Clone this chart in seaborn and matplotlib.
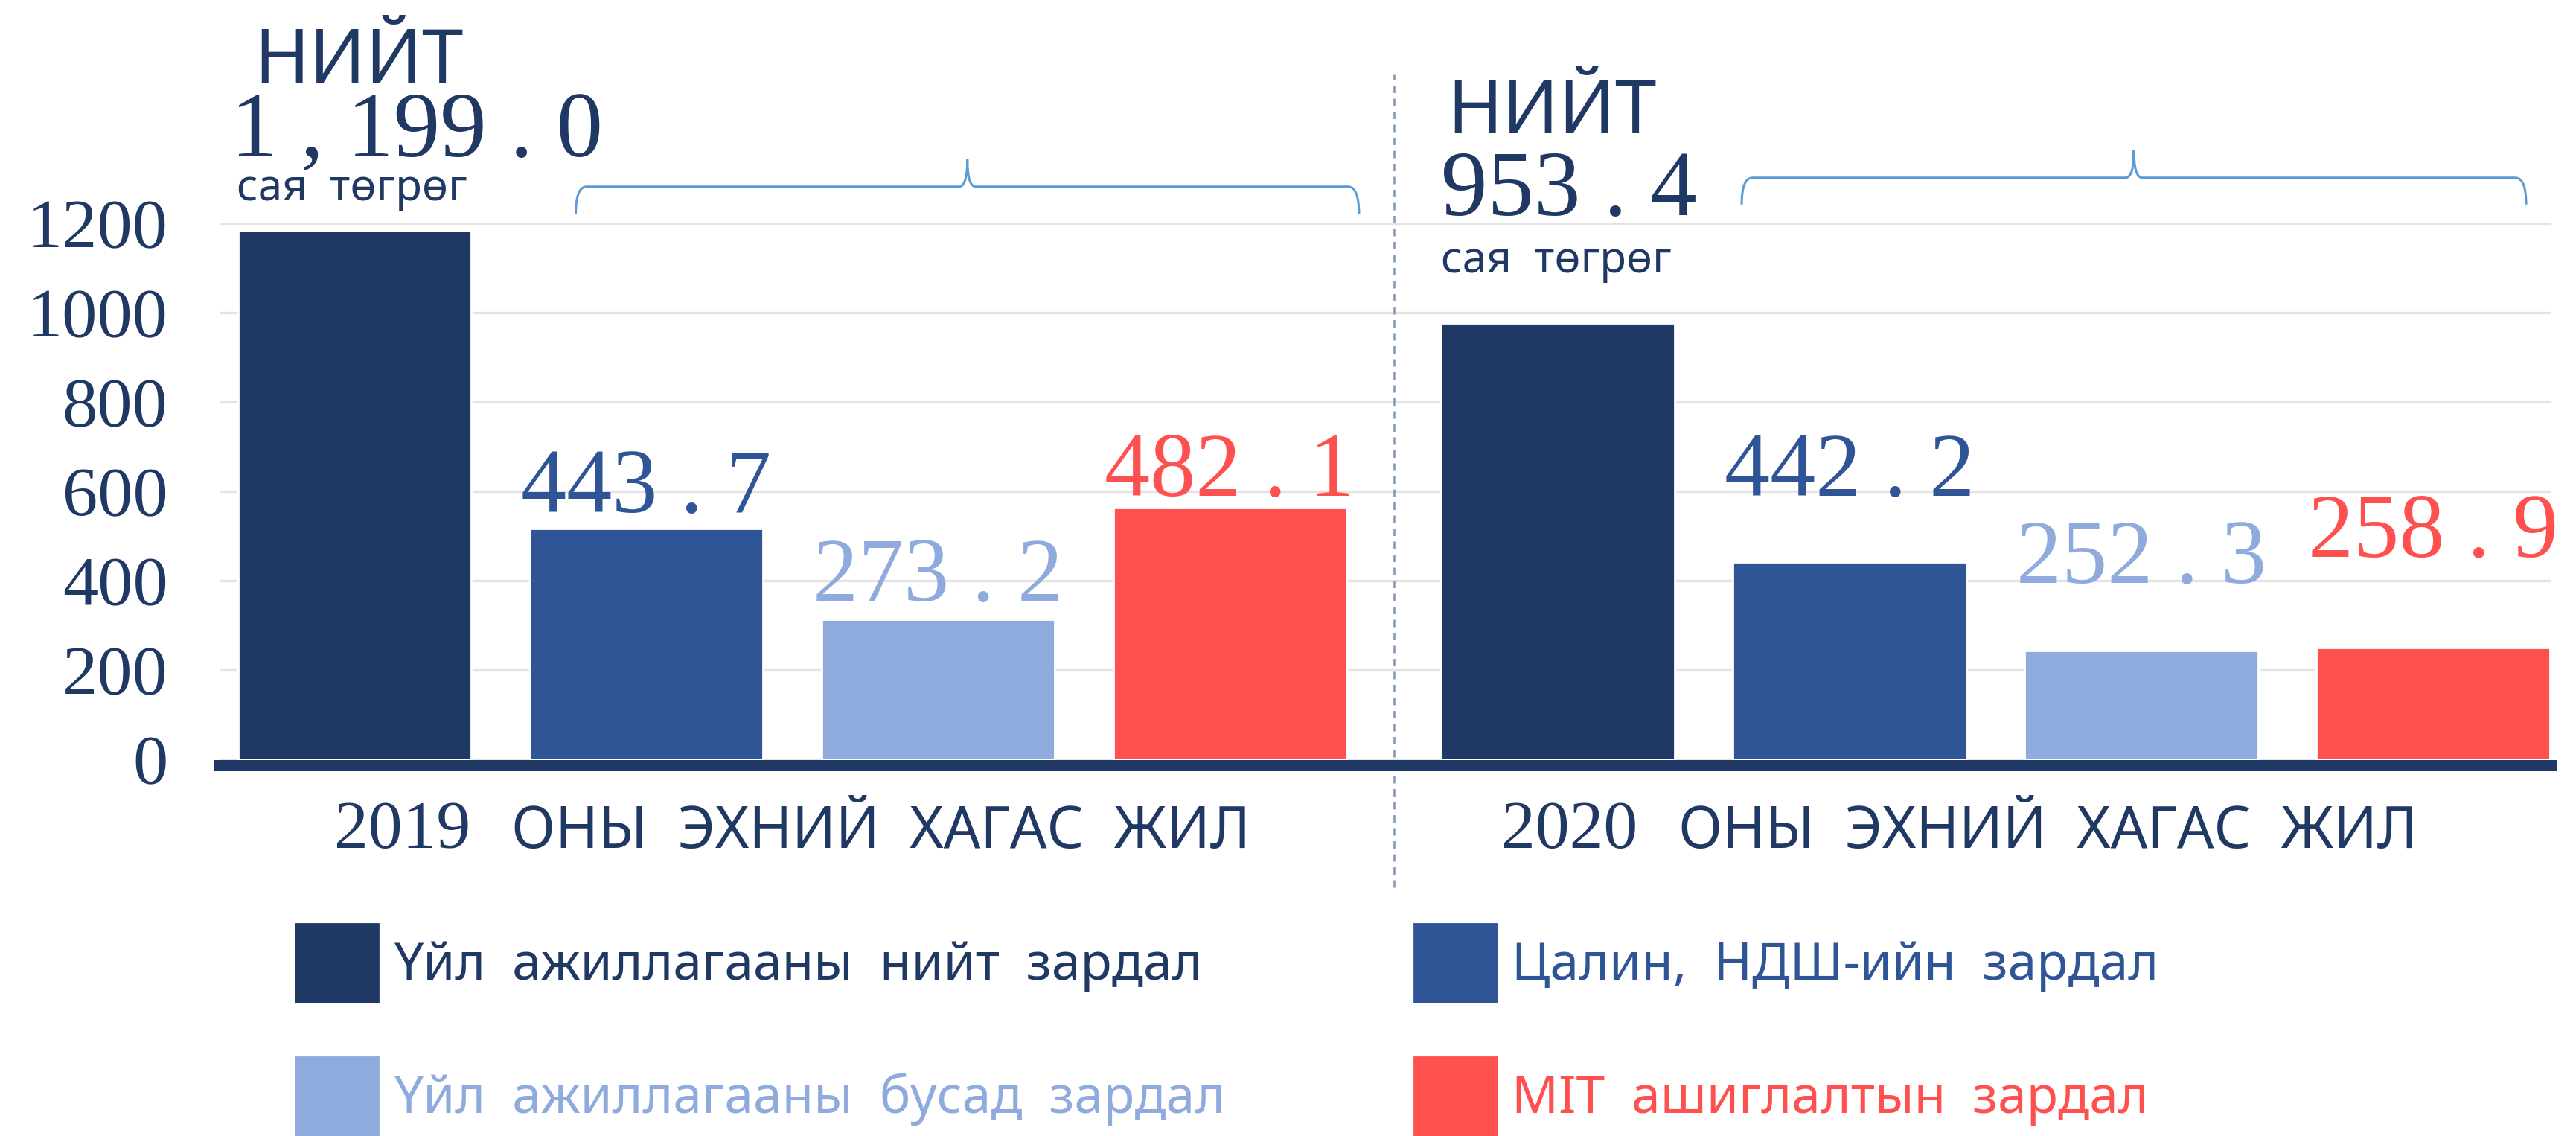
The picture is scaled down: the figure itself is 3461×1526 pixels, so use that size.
import numpy as np
import pandas as pd
import matplotlib
matplotlib.use('Agg')
import matplotlib.pyplot as plt
import seaborn as sns
from matplotlib.path import Path
from matplotlib.patches import PathPatch, Patch
from matplotlib.offsetbox import TextArea, HPacker, AnnotationBbox

# Өгөгдөл
years = ['2019', '2020']
series = ['Үйл ажиллагааны нийт зардал', 'Цалин, НДШ-ийн зардал',
          'Үйл ажиллагааны бусад зардал', 'МIT ашиглалтын зардал']
bars_2019 = [1183, 517, 313, 563]
bars_2020 = [977, 442, 243, 250]
shown_2019 = [1199.0, 443.7, 273.2, 482.1]
shown_2020 = [953.4, 442.2, 252.3, 258.9]
yticks = [0, 200, 400, 600, 800, 1000, 1200]
period_text = 'ОНЫ ЭХНИЙ ХАГАС ЖИЛ'
total_word = 'НИЙТ'
unit_text = 'сая төгрөг'

colors = ['#203864', '#2F5597', '#8FAADC', '#FF5050']
navy = '#203864'
SERIF = 'Liberation Serif'

W, H, DPI = 3462, 1526, 200

df = pd.DataFrame({
    'year': np.repeat(years, len(series)),
    'series': series * len(years),
    'value': bars_2019 + bars_2020,
})
shown = [shown_2019, shown_2020]


def spaced(v):
    s = f'{v:,.1f}'
    return s.replace(',', ' , ').replace('.', ' . ')


def wide(s):
    return s.replace(' ', '  ')


sns.set_theme(style='white')
plt.rcParams['font.family'] = ['Noto Sans', 'DejaVu Sans']

fig = plt.figure(figsize=(W / DPI, H / DPI), dpi=DPI)
ax = fig.add_axes([295 / W, 1 - 1028 / H, (3428 - 295) / W, 728 / H])

sns.barplot(data=df, x='year', y='value', hue='series', order=years,
            hue_order=series, palette=colors, saturation=1, width=0.97,
            gap=0.2, errorbar=None, legend=False, ax=ax)

# тэнхлэг
ax.set_xlabel('')
ax.set_ylabel('')
ax.set_xticks([])
ax.set_yticks(yticks)
ax.set_yticklabels([str(t) for t in yticks], family=SERIF, fontsize=34, color=navy)
ax.tick_params(axis='y', length=0, pad=25)
ax.yaxis.grid(True, color='#E4E4E4', lw=1.2)
ax.set_axisbelow(True)
for s in ['left', 'top', 'right']:
    ax.spines[s].set_visible(False)
ax.spines['bottom'].set_color(navy)
ax.spines['bottom'].set_linewidth(5.4)

# баганын дээрх утгууд
lift = [[0, 8, 9, 6], [0, 32, 33, 44]]
for g in range(len(years)):
    for i in range(1, len(series)):
        bar = ax.containers[i][g]
        ax.annotate(spaced(shown[g][i]), (bar.get_x() + bar.get_width() / 2, bar.get_height()),
                    xytext=(0, lift[g][i]), textcoords='offset points',
                    ha='center', va='baseline', family=SERIF, fontsize=44,
                    color=colors[i], annotation_clip=False)


# НИЙТ дүн
def put(px, py, s, **kw):
    fig.text(px / W, 1 - py / H, s, ha='left', va='baseline', **kw)


head_pos = [(341, 111, 310, 210, 318, 269), (1944, 179, 1936, 289, 1936, 366)]
for g, (x1, y1, x2, y2, x3, y3) in enumerate(head_pos):
    put(x1, y1, total_word, fontsize=36, color=navy)
    put(x2, y2, spaced(shown[g][0]), family=SERIF, fontsize=45, color=navy)
    put(x3, y3, wide(unit_text), fontsize=21, color=navy)


# хаалт
def brace(x0, x1, yt, yl, yp, dx=0.009, dp=0.007):
    xm = (x0 + x1) / 2
    verts = [(x0, yt), (x0, yl), (x0 + dx, yl),
             (xm - dp, yl), (xm, yl), (xm, yp),
             (xm, yl), (xm + dp, yl),
             (x1 - dx, yl), (x1, yl), (x1, yt)]
    codes = [Path.MOVETO, Path.CURVE3, Path.CURVE3,
             Path.LINETO, Path.CURVE3, Path.CURVE3,
             Path.CURVE3, Path.CURVE3,
             Path.LINETO, Path.CURVE3, Path.CURVE3]
    ax.add_patch(PathPatch(Path(verts, codes), fill=False, edgecolor='#5B9BD5',
                           lw=1.1, clip_on=False))


brace(-0.180, 0.471, 1220, 1282, 1343)
brace(0.789, 1.441, 1242, 1302, 1363)

ax.axvline(0.5, ymin=-0.225, ymax=1.275, color='#8497B0', lw=0.9,
           ls=(0, (4, 3)), clip_on=False)

# доод шошго
label_shift = [0, -0.03]
for g, yr in enumerate(years):
    ta1 = TextArea(yr, textprops=dict(family=SERIF, fontsize=33, color=navy))
    ta2 = TextArea(wide(period_text), textprops=dict(fontsize=28, color=navy))
    pack = HPacker(children=[ta1, ta2], align='baseline', pad=0, sep=20)
    ab = AnnotationBbox(pack, (g + label_shift[g], 0), xycoords=('data', 'axes fraction'),
                        xybox=(0, -17), boxcoords='offset points',
                        box_alignment=(0.5, 1), frameon=False,
                        annotation_clip=False)
    ax.add_artist(ab)

ax.set_xlim(-0.476, 1.462)
ax.set_ylim(-13, 1200)

# тайлбар
handles = [Patch(color=c) for c in colors]
order = [0, 2, 1, 3]
leg = fig.legend(handles=[handles[i] for i in order],
                 labels=[wide(series[i]) for i in order],
                 loc='upper left', bbox_to_anchor=(397 / W, 1 - 1241 / H),
                 ncol=2, frameon=False, fontsize=25, handlelength=1.6,
                 handleheight=1.95, handletextpad=0.3, columnspacing=3.65,
                 labelspacing=1.07, borderpad=0, borderaxespad=0)
for t, i in zip(leg.get_texts(), order):
    t.set_color(colors[i])

fig.savefig('out.png', dpi=DPI)
